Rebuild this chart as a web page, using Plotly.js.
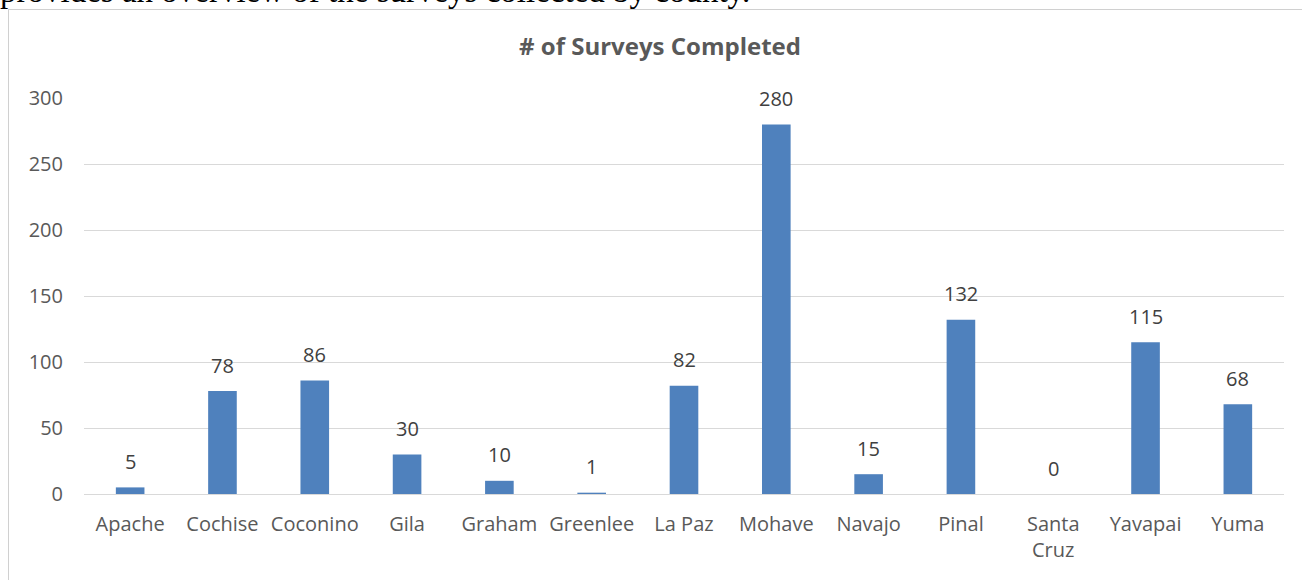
<!DOCTYPE html>
<html>
<head>
<meta charset="utf-8">
<script src="https://cdn.plot.ly/plotly-3.0.1.min.js"></script>
<style>
  body { margin: 0; background: #fff; overflow: hidden; }
  #lead { position: absolute; left: 0; top: -26px; line-height: 34px; font-family: "Liberation Serif", serif; font-size: 33px; color: #000; white-space: nowrap; }
  #frame { position: absolute; left: 8px; top: 9px; width: 1400px; height: 700px; border-left: 1px solid #d0d0d0; border-top: 1px solid #d0d0d0; }
  #chart { position: absolute; left: 0; top: 0; width: 1302px; height: 580px; }
</style>
</head>
<body>
<div id="lead">provides an overview of the surveys collected by county.</div>
<div id="frame"></div>
<div id="chart"></div>
<script>
// counties and survey counts
var counties = ['Apache', 'Cochise', 'Coconino', 'Gila', 'Graham', 'Greenlee', 'La Paz', 'Mohave', 'Navajo', 'Pinal', 'Santa<br>Cruz', 'Yavapai', 'Yuma'];
var surveys = [5, 78, 86, 30, 10, 1, 82, 280, 15, 132, 0, 115, 68];
var yTicks = [0, 50, 100, 150, 200, 250, 300];

var trace1 = {
    x: counties,
    y: surveys,
    type: 'bar',
    marker: { color: '#4f81bd' },
    width: 0.31,
    hoverinfo: 'x+y'
};

// value labels sit a bit higher above the bars than plotly's own text
var labels = surveys.map(function (v, i) {
    return {
        x: counties[i],
        y: v,
        text: String(v),
        showarrow: false,
        yanchor: 'middle',
        yshift: 26,
        font: { family: '"Open Sans", sans-serif', size: 20, color: '#404040' }
    };
});

var layout = {
    width: 1302,
    height: 580,
    margin: { l: 84, r: 18, t: 98, b: 86 },
    paper_bgcolor: 'rgba(0,0,0,0)',
    plot_bgcolor: 'rgba(0,0,0,0)',
    font: { family: '"Open Sans", sans-serif', size: 20, color: '#595959' },
    title: {
        text: '<b># of Surveys Completed</b>',
        font: { family: '"Open Sans", sans-serif', size: 24, color: '#595959' },
        x: 660 / 1302,
        xanchor: 'center',
        y: 1 - 47 / 580,
        yanchor: 'middle'
    },
    xaxis: {
        tickfont: { size: 20, color: '#595959' },
        showgrid: false,
        showline: false,
        ticks: '',
        ticklabelstandoff: 16
    },
    yaxis: {
        range: [0, 300],
        tickvals: yTicks,
        tickfont: { size: 20, color: '#595959' },
        gridcolor: '#d9d9d9',
        gridwidth: 1,
        zeroline: true,
        zerolinecolor: '#d9d9d9',
        zerolinewidth: 1,
        ticklabelstandoff: 20,
        showline: false
    },
    annotations: labels,
    showlegend: false
};

Plotly.newPlot('chart', [trace1], layout, { displayModeBar: false, staticPlot: true });
</script>
</body>
</html>
